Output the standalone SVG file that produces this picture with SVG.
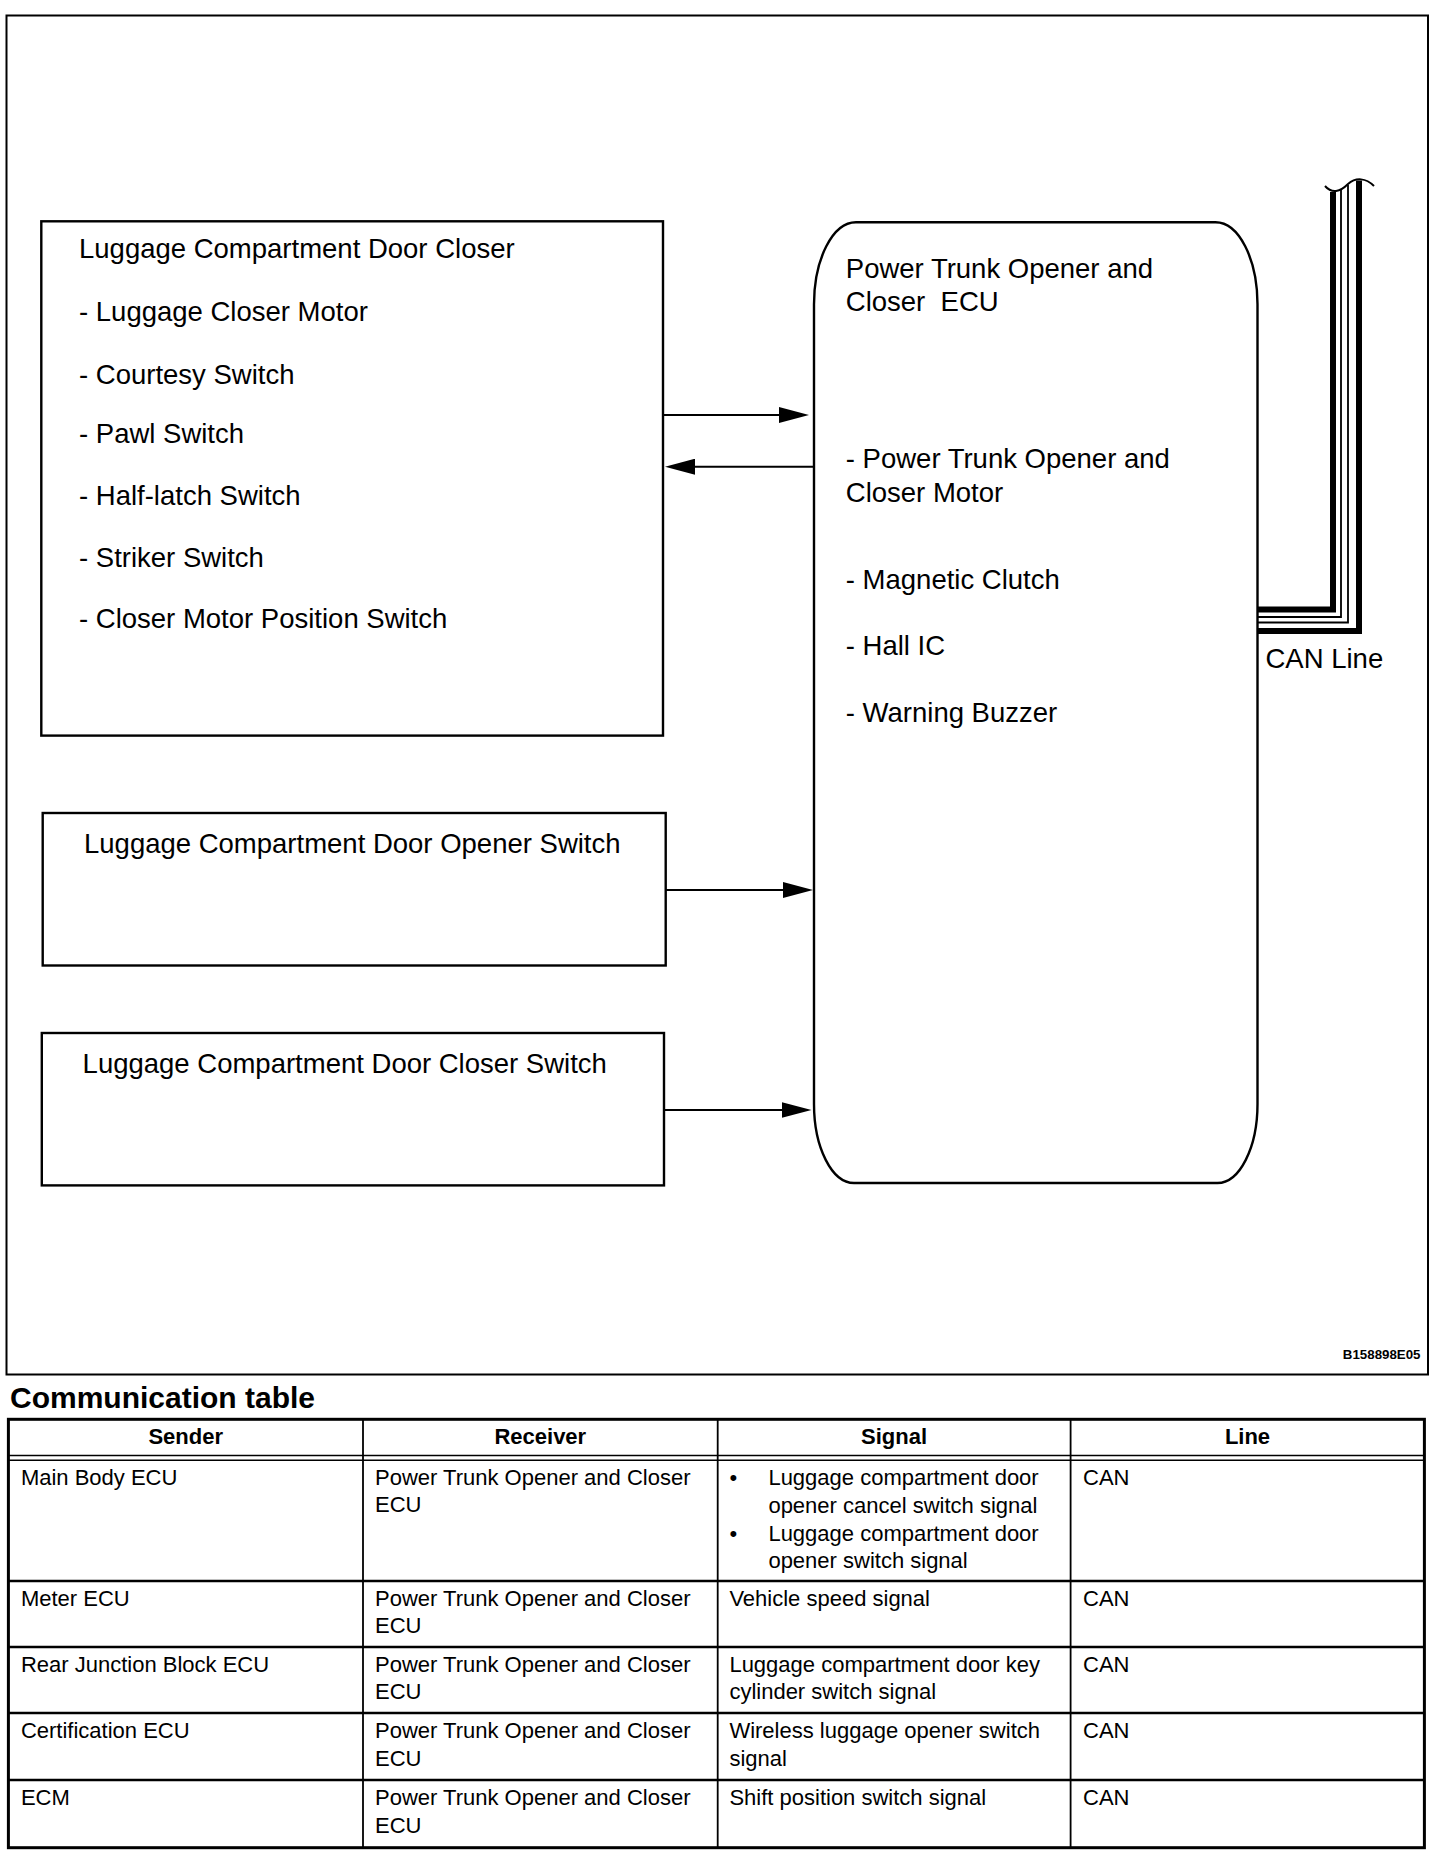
<svg xmlns="http://www.w3.org/2000/svg" width="1456" height="1868" viewBox="0 0 1456 1868">
<style>
text{font-family:"Liberation Sans",Arial,sans-serif;fill:#000}
.d{font-size:27.5px}
.t{font-size:22px}
.h{font-size:22px;font-weight:bold}
.ttl{font-size:30px;font-weight:bold}
.box{fill:#fff;stroke:#000;stroke-width:2.4}
.con{stroke:#000;stroke-width:2;fill:none}
.tl{stroke:#000;fill:none}
</style>
<defs>
<marker id="ah" markerUnits="userSpaceOnUse" viewBox="0 0 30 16" refX="15" refY="8" markerWidth="30" markerHeight="16" orient="auto">
<path d="M0,0 L30,8 L0,16 Z" fill="#000"/>
</marker>
</defs>
<rect width="1456" height="1868" fill="#fff"/>
<rect id="frame" x="6.5" y="15.5" width="1421.5" height="1359" fill="none" stroke="#000" stroke-width="2"/>

<g id="door-closer">
<rect class="box" x="41.3" y="221.3" width="621.7" height="514.3"/>
<text class="d" x="79" y="258">Luggage Compartment Door Closer</text>
<text class="d" x="79" y="320.5">- Luggage Closer Motor</text>
<text class="d" x="79" y="384">- Courtesy Switch</text>
<text class="d" x="79" y="442.6">- Pawl Switch</text>
<text class="d" x="79" y="504.6">- Half-latch Switch</text>
<text class="d" x="79" y="566.6">- Striker Switch</text>
<text class="d" x="79" y="627.6">- Closer Motor Position Switch</text>
</g>

<g id="opener-switch">
<rect class="box" x="42.7" y="813" width="623" height="152.5"/>
<text class="d" x="84" y="852.5">Luggage Compartment Door Opener Switch</text>
</g>

<g id="closer-switch">
<rect class="box" x="41.8" y="1033" width="622.2" height="152.4"/>
<text class="d" x="82.6" y="1072.5">Luggage Compartment Door Closer Switch</text>
</g>

<g id="ecu">
<path class="box" stroke-width="2.2" d="M856,222.3 H1215.5 A42,82 0 0 1 1257.5,304.3 V1104 A40,79 0 0 1 1217.5,1183 H854 A40,79 0 0 1 814,1104 V304.3 A42,82 0 0 1 856,222.3 Z"/>
<text class="d" x="845.8" y="277.7">Power Trunk Opener and</text>
<text class="d" x="845.8" y="310.5">Closer&#160; ECU</text>
<text class="d" x="845.8" y="468.3">- Power Trunk Opener and</text>
<text class="d" x="845.8" y="502">Closer Motor</text>
<text class="d" x="845.8" y="588.5">- Magnetic Clutch</text>
<text class="d" x="845.8" y="655">- Hall IC</text>
<text class="d" x="845.8" y="722">- Warning Buzzer</text>
</g>

<g id="connectors">
<path class="con" d="M663,415 H794" marker-end="url(#ah)"/>
<path class="con" d="M814,466.7 H680" marker-end="url(#ah)"/>
<path class="con" d="M665.7,890 H798" marker-end="url(#ah)"/>
<path class="con" d="M664,1110 H796.5" marker-end="url(#ah)"/>
</g>

<g id="can-line">
<path class="tl" stroke-width="6" d="M1257.5,609.5 H1333 V192"/>
<path class="tl" stroke-width="1.8" d="M1257.5,617 H1341 V189"/>
<path class="tl" stroke-width="1.8" d="M1257.5,622.5 H1348 V185"/>
<path class="tl" stroke-width="6" d="M1257.5,631 H1359 V180.5"/>
<path class="tl" stroke-width="2" d="M1325,186 C1332,194 1340,192 1348,184 C1356,177 1366,178 1374,186"/>
<text class="d" x="1265.5" y="668">CAN Line</text>
</g>

<text x="1420.5" y="1358.6" font-size="13.3" font-weight="bold" text-anchor="end">B158898E05</text>

<text class="ttl" x="10" y="1408">Communication table</text>

<g id="table">
<rect x="8.4" y="1419.3" width="1416" height="428.4" fill="none" stroke="#000" stroke-width="3"/>
<path class="tl" stroke-width="1.6" d="M8.4,1455.5 H1424.4 M8.4,1460.3 H1424.4"/>
<path class="tl" stroke-width="2.5" d="M8.4,1581 H1424.4 M8.4,1647 H1424.4 M8.4,1713 H1424.4 M8.4,1780 H1424.4"/>
<path class="tl" stroke-width="1.8" d="M363,1419.3 V1847.7 M717.7,1419.3 V1847.7 M1070.6,1419.3 V1847.7"/>
<text class="h" x="185.7" y="1444" text-anchor="middle">Sender</text>
<text class="h" x="540.3" y="1444" text-anchor="middle">Receiver</text>
<text class="h" x="894.1" y="1444" text-anchor="middle">Signal</text>
<text class="h" x="1247.5" y="1444" text-anchor="middle">Line</text>

<text class="t" x="20.9" y="1485">Main Body ECU</text>
<text class="t" x="375" y="1485">Power Trunk Opener and Closer</text>
<text class="t" x="375" y="1512">ECU</text>
<text class="t" x="729.4" y="1485">•</text>
<text class="t" x="768.4" y="1485">Luggage compartment door</text>
<text class="t" x="768.4" y="1512.6">opener cancel switch signal</text>
<text class="t" x="729.4" y="1540.8">•</text>
<text class="t" x="768.4" y="1540.8">Luggage compartment door</text>
<text class="t" x="768.4" y="1567.5">opener switch signal</text>
<text class="t" x="1083" y="1485">CAN</text>

<text class="t" x="20.9" y="1606">Meter ECU</text>
<text class="t" x="375" y="1606">Power Trunk Opener and Closer</text>
<text class="t" x="375" y="1633">ECU</text>
<text class="t" x="729.4" y="1606">Vehicle speed signal</text>
<text class="t" x="1083" y="1606">CAN</text>

<text class="t" x="20.9" y="1672">Rear Junction Block ECU</text>
<text class="t" x="375" y="1672">Power Trunk Opener and Closer</text>
<text class="t" x="375" y="1699">ECU</text>
<text class="t" x="729.4" y="1672">Luggage compartment door key</text>
<text class="t" x="729.4" y="1699">cylinder switch signal</text>
<text class="t" x="1083" y="1672">CAN</text>

<text class="t" x="20.9" y="1738">Certification ECU</text>
<text class="t" x="375" y="1738">Power Trunk Opener and Closer</text>
<text class="t" x="375" y="1766">ECU</text>
<text class="t" x="729.4" y="1738">Wireless luggage opener switch</text>
<text class="t" x="729.4" y="1766">signal</text>
<text class="t" x="1083" y="1738">CAN</text>

<text class="t" x="20.9" y="1805">ECM</text>
<text class="t" x="375" y="1805">Power Trunk Opener and Closer</text>
<text class="t" x="375" y="1832.7">ECU</text>
<text class="t" x="729.4" y="1805">Shift position switch signal</text>
<text class="t" x="1083" y="1805">CAN</text>
</g>
</svg>
